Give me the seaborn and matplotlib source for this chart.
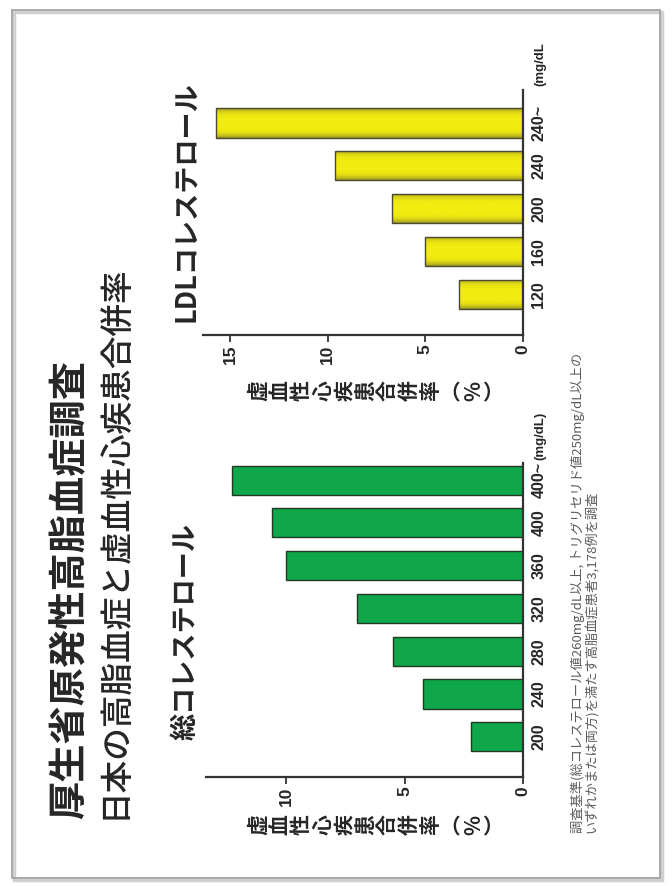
import numpy as np
import pandas as pd
import matplotlib
matplotlib.use("Agg")
import matplotlib.pyplot as plt
from matplotlib.patches import Rectangle
from matplotlib.colors import LinearSegmentedColormap
import seaborn as sns

# ---- data ----
tc_levels = ["200", "240", "280", "320", "360", "400", "400~"]
tc_rates = [2.2, 4.2, 5.5, 7.0, 10.0, 10.6, 12.3]
ldl_levels = ["120", "160", "200", "240", "240~"]
ldl_rates = [3.3, 5.0, 6.7, 9.6, 15.7]
tc_ticks = [0, 5, 10]
ldl_ticks = [0, 5, 10, 15]

title_main = "厚生省原発性高脂血症調査"
title_sub = "日本の高脂血症と虚血性心疾患合併率"
tc_title = "総コレステロール"
ldl_title = "LDLコレステロール"
rate_label = "虚血性心疾患合併率︵%︶"
unit_tc = "(mg/dL)"
unit_ldl = "(mg/dL"
note_lines = [
    "調査基準(総コレステロール値260mg/dL以上, トリグリセリド値250mg/dL以上の",
    "いずれかまたは両方)を満たす高脂血症患者3,178例を調査",
]

sns.set_theme(style="white")
plt.rcParams["font.family"] = ["Noto Sans CJK JP", "DejaVu Sans"]
NUM_FONT = ["Liberation Sans", "DejaVu Sans"]

W, H = 672, 886
fig = plt.figure(figsize=(W / 100, H / 100), dpi=100)
fig.patch.set_facecolor("white")


def fx(px):
    return px / W


def fy(py):
    return 1 - py / H


def add_axes_px(left, top, right, bottom):
    return fig.add_axes([fx(left), fy(bottom), (right - left) / W, (bottom - top) / H])


def shade_bars(ax, base, dark):
    cmap = LinearSegmentedColormap.from_list("bar_shade", [dark, base])
    t = np.linspace(-1, 1, 64)
    grad = (1 - np.abs(t) ** 4).reshape(-1, 1)
    for p in list(ax.patches):
        x0, y0, w, h = p.get_x(), p.get_y(), p.get_width(), p.get_height()
        im = ax.imshow(grad, extent=[x0, x0 + w, y0, y0 + h], aspect="auto",
                       cmap=cmap, vmin=0, vmax=1, zorder=p.get_zorder() + 0.1,
                       interpolation="bilinear")
        im.set_clip_path(p)
        p.set_facecolor("none")
        p.set_zorder(p.get_zorder() + 0.2)


def draw_panel(ax, levels, rates, color, edge, vmax, ylim, ticks, shade=None):
    df = pd.DataFrame({"level": levels, "rate": rates})
    sns.barplot(data=df, x="rate", y="level", order=levels, orient="h",
                color=color, saturation=1, width=0.68, edgecolor=edge,
                linewidth=1.0, ax=ax)
    if shade is not None:
        shade_bars(ax, color, shade)
    ax.set_xlim(vmax, 0)
    ax.set_ylim(*ylim)
    ax.set_xlabel("")
    ax.set_ylabel("")
    ax.set_facecolor("none")
    ax.yaxis.tick_right()
    ax.set_xticks(ticks)
    ax.set_xticklabels([str(t) for t in ticks], rotation=90, fontsize=12.5,
                       fontweight="bold", family=NUM_FONT)
    ax.tick_params(axis="x", direction="out", length=5, width=1.3,
                   color="#333333", pad=2, bottom=True)
    ax.tick_params(axis="y", length=0, pad=6)
    for lab in ax.get_yticklabels():
        lab.set_rotation(90)
        lab.set_fontsize(11.5)
        lab.set_fontweight("bold")
        lab.set_family(NUM_FONT)
        lab.set_va("center")
    for side in ("top", "left"):
        ax.spines[side].set_visible(False)
    for side in ("right", "bottom"):
        ax.spines[side].set_color("#333333")
        ax.spines[side].set_linewidth(1.6)
    ax.grid(False)


# Total cholesterol panel (green)
ax_tc = add_axes_px(206, 463, 523, 777)
draw_panel(ax_tc, tc_levels, tc_rates, "#10a74b", "#1f3a22",
           13.38, (-0.94, 6.4), tc_ticks)

# LDL cholesterol panel (yellow, shaded)
ax_ldl = add_axes_px(203, 90, 523, 335)
draw_panel(ax_ldl, ldl_levels, ldl_rates, "#f2ec10", "#4a4a30",
           16.38, (-0.95, 4.77), ldl_ticks, shade="#9a9424")

# unit labels at the end of each category axis
fig.text(fx(540), fy(460), unit_tc, rotation=90, rotation_mode="anchor",
         ha="left", va="center", fontsize=9.5, fontweight="bold", family=NUM_FONT)
fig.text(fx(540), fy(86), unit_ldl, rotation=90, rotation_mode="anchor",
         ha="left", va="center", fontsize=9.5, fontweight="bold", family=NUM_FONT)

# panel titles
fig.text(fx(186), fy(740), tc_title, rotation=90, rotation_mode="anchor",
         ha="left", va="center", fontsize=19.5, fontweight="bold")
fig.text(fx(186), fy(322), ldl_title, rotation=90, rotation_mode="anchor",
         ha="left", va="center", fontsize=19.5, fontweight="bold")

# stacked (vertical-writing) rate labels
for yc in (825, 391):
    for i, ch in enumerate(rate_label):
        fig.text(fx(258.5 + 21.5 * i), fy(yc), ch, rotation=90, ha="center",
                 va="center", fontsize=15, fontweight="bold")

# main titles
fig.text(fx(70), fy(819), title_main, rotation=90, rotation_mode="anchor",
         ha="left", va="center", fontsize=27.5, fontweight="bold")
fig.text(fx(115), fy(819), title_sub, rotation=90, rotation_mode="anchor",
         ha="left", va="center", fontsize=23.5, fontweight="medium")

# footnote
for xc, line in zip((578, 592), note_lines):
    fig.text(fx(xc), fy(833), line, rotation=90, rotation_mode="anchor",
             ha="left", va="center", fontsize=9.5, color="#5a5a5a")

# slide frame with a soft shadow
fig.patches.append(Rectangle((fx(14), fy(880)), (662 - 14) / W, (880 - 12) / H,
                             transform=fig.transFigure, fill=False,
                             edgecolor="#d0d0d0", linewidth=2.5, zorder=0))
fig.patches.append(Rectangle((fx(12), fy(878)), (660 - 12) / W, (878 - 10) / H,
                             transform=fig.transFigure, fill=False,
                             edgecolor="#9c9c9c", linewidth=1.2, zorder=1))

fig.savefig("out.png", dpi=100, facecolor="white")
